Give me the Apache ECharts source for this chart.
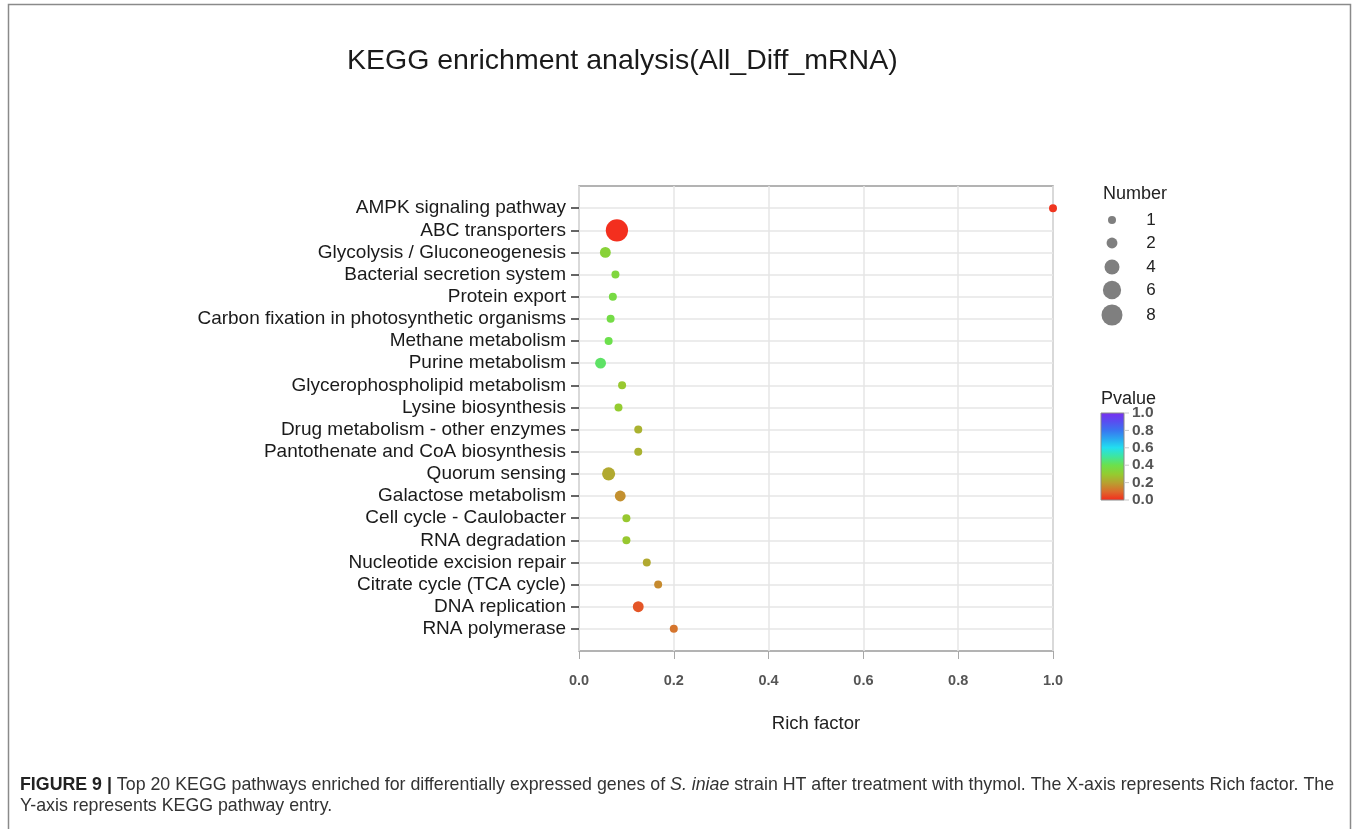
<!DOCTYPE html>
<html>
<head>
<meta charset="utf-8">
<script src="https://cdn.jsdelivr.net/npm/echarts@6/dist/echarts.min.js"></script>
<style>
  html, body { margin: 0; padding: 0; background: #fff; }
  #chart { width: 1358px; height: 829px; }
</style>
</head>
<body>
<div id="chart"></div>
<script>
// KEGG pathways, top to bottom
const pathways = [
  'AMPK signaling pathway',
  'ABC transporters',
  'Glycolysis / Gluconeogenesis',
  'Bacterial secretion system',
  'Protein export',
  'Carbon fixation in photosynthetic organisms',
  'Methane metabolism',
  'Purine metabolism',
  'Glycerophospholipid metabolism',
  'Lysine biosynthesis',
  'Drug metabolism - other enzymes',
  'Pantothenate and CoA biosynthesis',
  'Quorum sensing',
  'Galactose metabolism',
  'Cell cycle - Caulobacter',
  'RNA degradation',
  'Nucleotide excision repair',
  'Citrate cycle (TCA cycle)',
  'DNA replication',
  'RNA polymerase'
];
const richFactor = [1.0, 0.080, 0.0556, 0.0769, 0.0714, 0.0667, 0.0625, 0.0455, 0.0909, 0.0833,
                    0.125, 0.125, 0.0625, 0.087, 0.10, 0.10, 0.143, 0.167, 0.125, 0.20];
const geneNumber = [1, 9, 2, 1, 1, 1, 1, 2, 1, 1,
                    1, 1, 3, 2, 1, 1, 1, 1, 2, 1];
const pValue = [0.02, 0.01, 0.33, 0.35, 0.37, 0.38, 0.40, 0.43, 0.29, 0.30,
                0.24, 0.24, 0.22, 0.17, 0.29, 0.29, 0.22, 0.16, 0.07, 0.12];

const xTicks = [0, 0.2, 0.4, 0.6, 0.8, 1.0];
const sizeBreaks = [1, 2, 4, 6, 8];
const pTicks = [0, 0.2, 0.4, 0.6, 0.8, 1.0];

// rainbow scale for Pvalue, one stop every 0.1
const pColors = ['#f5281c', '#dc6a2c', '#b8a030', '#94cc30', '#6ce04c', '#3ee6a0',
                 '#22dff0', '#2aa8f0', '#3a74f0', '#5a4cf0', '#7a2ef0'];

const FONT = '"Liberation Sans", Arial, sans-serif';

// point area grows linearly with gene number
function dotSize(n) { return Math.sqrt(10 + 54 * n); }

const chart = echarts.init(document.getElementById('chart'), null, { renderer: 'canvas' });

// padded category list so the pathways sit one step in from the panel edges
const yCats = [''].concat(pathways, ['']);

const points = pathways.map((name, i) => ({
  value: [richFactor[i], i + 1, geneNumber[i], pValue[i]],
  symbolSize: dotSize(geneNumber[i])
}));

// colour bar geometry
const bar = { x: 1101, y: 413, w: 23, h: 87 };

const graphics = [];
// outer frame
graphics.push({
  type: 'rect', shape: { x: 8.5, y: 4.5, width: 1342, height: 840 },
  style: { fill: 'none', stroke: '#8a8a8a', lineWidth: 1.5 }, silent: true
});
// Number legend
graphics.push({
  type: 'text', left: 1103, top: 185,
  style: { text: 'Number', font: '18px ' + FONT, fill: '#222' }
});
const sizeY = [220, 243, 267, 290, 315];
sizeBreaks.forEach((n, k) => {
  graphics.push({
    type: 'circle', shape: { cx: 1112, cy: sizeY[k], r: dotSize(n) / 2 },
    style: { fill: '#7f7f7f' }
  });
  graphics.push({
    type: 'text', x: 1151, y: sizeY[k],
    style: { text: String(n), font: '17px ' + FONT, fill: '#222', align: 'center', verticalAlign: 'middle' }
  });
});
// Pvalue colour bar
graphics.push({
  type: 'rect', shape: { x: bar.x, y: bar.y, width: bar.w, height: bar.h },
  style: {
    fill: new echarts.graphic.LinearGradient(0, 1, 0, 0,
      pColors.map((c, k) => ({ offset: k / (pColors.length - 1), color: c }))),
    stroke: '#8a8a8a', lineWidth: 1
  }
});
pTicks.forEach(v => {
  const y = bar.y + bar.h - v * bar.h;
  graphics.push({
    type: 'line', shape: { x1: bar.x + bar.w, y1: y, x2: bar.x + bar.w + 5, y2: y },
    style: { stroke: '#c8c8c8', lineWidth: 1 }
  });
  graphics.push({
    type: 'text', x: bar.x + bar.w + 8, y: y,
    style: { text: v.toFixed(1), font: 'bold 15.5px ' + FONT, fill: '#555', verticalAlign: 'middle' }
  });
});
graphics.push({
  type: 'text', left: 1101, top: 390,
  style: { text: 'Pvalue', font: '18px ' + FONT, fill: '#222' }
});
// caption
graphics.push({
  type: 'text', left: 20, top: 776,
  style: {
    text: '{b|FIGURE 9 |} Top 20 KEGG pathways enriched for differentially expressed genes of {i|S. iniae} strain HT after treatment with thymol. The X-axis represents Rich factor. The',
    font: '17.8px ' + FONT, fill: '#333',
    rich: {
      b: { font: 'bold 17.8px ' + FONT, fill: '#222' },
      i: { font: 'italic 17.8px ' + FONT, fill: '#333' }
    }
  }
});
graphics.push({
  type: 'text', left: 20, top: 797,
  style: { text: 'Y-axis represents KEGG pathway entry.', font: '17.8px ' + FONT, fill: '#333' }
});

chart.setOption({
  animation: false,
  backgroundColor: '#fff',
  title: {
    text: 'KEGG enrichment analysis(All_Diff_mRNA)',
    left: 342, top: 42,
    textStyle: { fontFamily: FONT, fontSize: 28.5, fontWeight: 'normal', color: '#1a1a1a' }
  },
  grid: {
    left: 579, top: 186, width: 474, height: 465,
    show: true, borderColor: '#9a9a9a', borderWidth: 1.5, backgroundColor: 'transparent'
  },
  xAxis: {
    type: 'value', min: 0, max: 1, interval: 0.2,
    name: 'Rich factor', nameLocation: 'middle', nameGap: 63,
    nameTextStyle: { fontFamily: FONT, fontSize: 18.5, color: '#222' },
    axisLine: { show: false },
    axisTick: { show: true, length: 8, lineStyle: { color: '#a8a8a8', width: 1 } },
    axisLabel: {
      margin: 22, fontFamily: FONT, fontSize: 14.5, fontWeight: 'bold', color: '#555',
      formatter: v => v.toFixed(1)
    },
    splitLine: { show: true, lineStyle: { color: '#e6e6e6', width: 1.5 } }
  },
  yAxis: {
    type: 'category', data: yCats, inverse: true, boundaryGap: false,
    axisLine: { show: false },
    axisTick: {
      show: true, length: 8, interval: (i, v) => v !== '',
      lineStyle: { color: '#333', width: 1.5 }
    },
    axisLabel: {
      margin: 13, fontFamily: FONT, fontSize: 19, color: '#1a1a1a',
      interval: 0
    },
    splitLine: {
      show: true, interval: (i, v) => v !== '',
      lineStyle: { color: '#e6e6e6', width: 1.5 }
    }
  },
  visualMap: {
    show: false, type: 'continuous', min: 0, max: 1, dimension: 3, seriesIndex: 0,
    inRange: { color: pColors }
  },
  series: [{
    type: 'scatter',
    data: points,
    itemStyle: { opacity: 1 },
    emphasis: { disabled: true }
  }],
  graphic: graphics
});
</script>
</body>
</html>
